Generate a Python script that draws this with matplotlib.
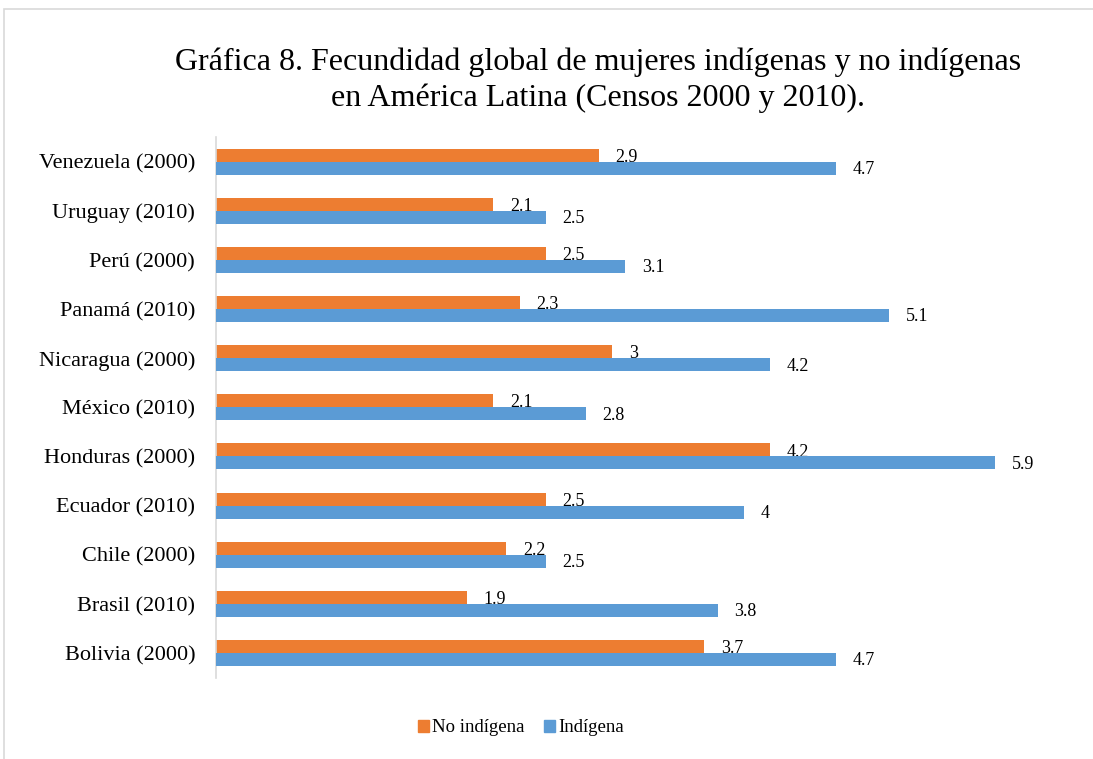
import matplotlib
matplotlib.use("Agg")
import matplotlib.pyplot as plt
from matplotlib.patches import Rectangle, Patch

plt.rcParams['font.family'] = ['Liberation Serif', 'DejaVu Serif']

categories = ["Bolivia (2000)", "Brasil (2010)", "Chile (2000)", "Ecuador (2010)",
              "Honduras (2000)", "México (2010)", "Nicaragua (2000)", "Panamá (2010)",
              "Perú (2000)", "Uruguay (2010)", "Venezuela (2000)"]
no_indigena = [3.7, 1.9, 2.2, 2.5, 4.2, 2.1, 3.0, 2.3, 2.5, 2.1, 2.9]
indigena = [4.7, 3.8, 2.5, 4.0, 5.9, 2.8, 4.2, 5.1, 3.1, 2.5, 4.7]
no_labels = ["3.7", "1.9", "2.2", "2.5", "4.2", "2.1", "3", "2.3", "2.5", "2.1", "2.9"]
ind_labels = ["4.7", "3.8", "2.5", "4", "5.9", "2.8", "4.2", "5.1", "3.1", "2.5", "4.7"]

orange = "#ED7D31"
blue = "#5B9BD5"

W, H = 1093, 759
fig = plt.figure(figsize=(W / 100, H / 100), dpi=100)
fig.patches.append(Rectangle((4 / W, -0.1), 1.2, 1 - 9 / H + 0.1, transform=fig.transFigure,
                             fill=False, edgecolor="#D9D9D9", linewidth=1.2))

ax = fig.add_axes([216 / W, 1 - 677.6 / H, (1008 - 216) / W, (677.6 - 137) / H])
ypos = list(range(len(categories)))
h = 0.264
ax.barh([y + h / 2 for y in ypos], no_indigena, height=h, color=orange, zorder=2,
        label="No indígena")
ax.barh([y - h / 2 for y in ypos], indigena, height=h, color=blue, zorder=3,
        label="Indígena")

for y, v, t in zip(ypos, no_indigena, no_labels):
    ax.annotate(t, (v, y + h / 2), xytext=(12, -1.5), textcoords="offset points",
                ha="left", va="center", fontsize=13, zorder=1)
for y, v, t in zip(ypos, indigena, ind_labels):
    ax.annotate(t, (v, y - h / 2), xytext=(12, -1), textcoords="offset points",
                ha="left", va="center", fontsize=13, zorder=4)

ax.set_xlim(0, 6)
ax.set_ylim(-0.5, len(categories) - 0.5)
ax.set_yticks(ypos)
ax.set_yticklabels(categories, fontsize=16)
ax.set_xticks([])
ax.tick_params(axis="y", length=0, pad=15)
for s in ["top", "right", "bottom"]:
    ax.spines[s].set_visible(False)
ax.spines["left"].set_color("#D9D9D9")
ax.spines["left"].set_linewidth(1.2)

fig.text(598 / W, 1 - 80 / H,
         "Gráfica 8. Fecundidad global de mujeres indígenas y no indígenas\n"
         "en América Latina (Censos 2000 y 2010).",
         ha="center", va="center", fontsize=23, linespacing=1.28)

handles = [Patch(color=orange, label="No indígena"), Patch(color=blue, label="Indígena")]
fig.legend(handles=handles, loc="center", bbox_to_anchor=(521 / W, 1 - 728 / H),
           ncol=2, frameon=False, fontsize=13.5, handlelength=0.6, handleheight=0.6,
           handletextpad=0.2, columnspacing=1.0)

fig.savefig("out.png", dpi=100)
